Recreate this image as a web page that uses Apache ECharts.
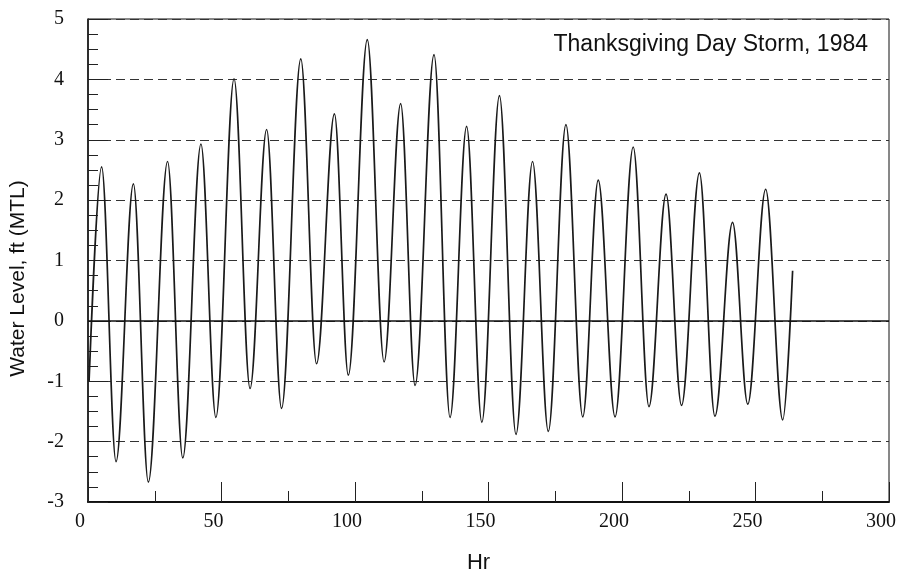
<!DOCTYPE html>
<html>
<head>
<meta charset="utf-8">
<script src="https://cdn.jsdelivr.net/npm/echarts@6/dist/echarts.min.js"></script>
<style>
html,body{margin:0;padding:0;background:#fff;}
#chart{width:907px;height:579px;}
</style>
</head>
<body>
<div id="chart"></div>
<script>
// Hours at which the water-level extremes (and start/end) occur
const hours = [0.4, 5.1, 10.5, 17.0, 22.6, 29.8, 35.5, 42.3, 47.9, 54.7, 60.7, 66.9, 72.5, 79.7, 85.6, 92.3, 97.5, 104.6, 110.9, 117.1, 122.5, 129.6, 135.6, 141.8, 147.5, 154.1, 160.3, 166.5, 172.4, 179.0, 185.3, 191.1, 197.4, 204.2, 210.1, 216.5, 222.3, 229.0, 234.8, 241.4, 247.1, 253.8, 260.2, 263.9];
// Water level, ft (MTL)
const levels = [-1.0, 2.55, -2.33, 2.27, -2.67, 2.64, -2.27, 2.93, -1.60, 4.01, -1.12, 3.17, -1.45, 4.34, -0.71, 3.43, -0.90, 4.66, -0.68, 3.60, -1.07, 4.41, -1.60, 3.22, -1.68, 3.73, -1.88, 2.64, -1.83, 3.25, -1.59, 2.33, -1.59, 2.88, -1.42, 2.10, -1.40, 2.45, -1.58, 1.63, -1.38, 2.18, -1.64, 0.83];

const titleText = 'Thanksgiving Day Storm, 1984';
const xName = 'Hr';
const yName = 'Water Level, ft (MTL)';

const seriesData = hours.map((h, i) => [h, levels[i]]);

const chart = echarts.init(document.getElementById('chart'), null, {renderer: 'canvas'});
chart.setOption({
  animation: false,
  backgroundColor: '#ffffff',
  title: {
    text: titleText,
    right: 39,
    top: 33,
    padding: 0,
    textStyle: {fontFamily: 'Liberation Sans', fontSize: 23, fontWeight: 'normal', color: '#111'}
  },
  grid: {
    left: 88, right: 18, top: 19, bottom: 75,
    show: true, borderColor: '#111', borderWidth: 1, backgroundColor: 'transparent'
  },
  xAxis: {
    type: 'value',
    min: 0, max: 300, interval: 50,
    name: xName,
    nameLocation: 'middle',
    nameGap: 50,
    nameTextStyle: {fontFamily: 'Liberation Sans', fontSize: 22, color: '#111', padding: [0, 20, 0, 0]},
    axisLine: {show: true, onZero: false, lineStyle: {color: '#111', width: 2}},
    axisTick: {show: true, inside: true, length: 20, lineStyle: {color: '#222', width: 1}},
    minorTick: {show: true, splitNumber: 2, length: 11, lineStyle: {color: '#222', width: 1}},
    axisLabel: {fontFamily: 'Liberation Serif', fontSize: 20, color: '#111', margin: 10, padding: [0, 16, 0, 0]},
    splitLine: {show: false}
  },
  yAxis: {
    type: 'value',
    min: -3, max: 5, interval: 1,
    name: yName,
    nameLocation: 'middle',
    nameGap: 59,
    nameTextStyle: {fontFamily: 'Liberation Sans', fontSize: 21, color: '#111', padding: [0, 36, 0, 0]},
    axisLine: {show: true, onZero: false, lineStyle: {color: '#111', width: 1.5}},
    axisTick: {show: true, inside: true, length: 20, lineStyle: {color: '#222', width: 1}},
    minorTick: {show: true, splitNumber: 4, length: 10, lineStyle: {color: '#222', width: 1}},
    axisLabel: {fontFamily: 'Liberation Serif', fontSize: 20, color: '#111', margin: 24},
    splitLine: {show: true, lineStyle: {color: '#333', width: 1, type: [9, 5]}}
  },
  series: [{
    type: 'line',
    data: seriesData,
    showSymbol: false,
    smooth: 0.35,
    smoothMonotone: 'x',
    lineStyle: {color: '#1a1a1a', width: 1.7},
    markLine: {
      silent: true,
      symbol: 'none',
      label: {show: false},
      lineStyle: {color: '#111', width: 1.5, type: 'solid'},
      data: [{yAxis: 0}]
    }
  }]
});
</script>
</body>
</html>
